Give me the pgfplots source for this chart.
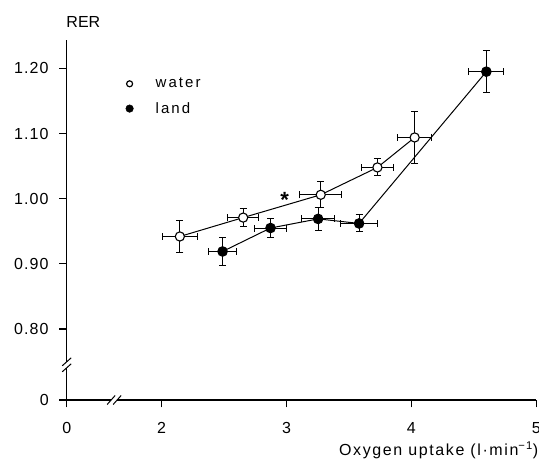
\documentclass[border=0pt]{standalone}
\usepackage{pgfplots}
\pgfplotsset{compat=1.18}
\usepackage{fontspec}
\setmainfont{Liberation Sans}[LetterSpace=14]
\newfontfamily\tickfamily{Liberation Sans}[LetterSpace=7]
\newfontfamily\plainfamily{Liberation Sans}
\newfontfamily\xlabfamily{Liberation Sans}[LetterSpace=10]
\newcommand{\mytickfont}{\tickfamily\fontsize{16}{19}\selectfont}
\newcommand{\myylabfont}{\plainfamily\fontsize{16}{19}\selectfont}
\newcommand{\myxlabfont}{\xlabfamily\fontsize{16}{19}\selectfont}

\begin{document}
\begin{tikzpicture}
\begin{axis}[
  scale only axis, width=469.6pt, height=360pt,
  xmin=1.24, xmax=5, ymin=0.691, ymax=1.2436,
  axis lines=left, axis line style={-, line width=1.4pt},
  tick align=outside, major tick length=7.5pt,
  tick style={draw=black, line width=1.2pt},
  xtick={1.24,2,3,4,5}, xticklabels={0,2,3,4,5},
  ytick={0.691,0.8,0.9,1.0,1.1,1.2},
  yticklabels={0,0.80,0.90,1.00,1.10,1.20},
  yticklabel style={font=\mytickfont, xshift=-7pt},
  xticklabel style={font=\mytickfont, yshift=-11pt},
  xlabel={Oxygen uptake (l·min\textsuperscript{−1})},
  xlabel style={font=\myxlabfont, at={(axis description cs:1.003,-0.14)}, anchor=east, xshift=4pt},
  ylabel={RER},
  ylabel style={font=\myylabfont, rotate=-90,
    at={(axis description cs:-0.008,1.05)}, anchor=west},
  clip=false,
  legend style={at={(axis description cs:0.125,0.9)}, anchor=north west,
    draw=none, fill=none, font=\fontsize{15}{18}\selectfont, row sep=9pt,
    legend cell align=left, inner sep=0pt},
  legend image code/.code={\draw[#1] plot coordinates {(0pt,0pt)};
    \path[draw=none] (-4pt,0pt) -- (24pt,0pt);},
]
\addlegendimage{black, only marks, mark=o, mark size=3pt, line width=1.2pt}
\addlegendentry{water}
\addlegendimage{black, only marks, mark=*, mark size=3.8pt}
\addlegendentry{land}

% water
\addplot[black, line width=1pt, mark=*,
  mark options={fill=white, line width=1.1pt, mark size=4.6pt},
  error bars/.cd, x dir=both, x explicit, y dir=both, y explicit,
  error bar style={line width=1pt, black},
  error mark options={rotate=90, mark size=3.5pt, line width=1pt, black}]
  coordinates {
  (2.146,0.942) +- (0.140,0.025)
  (2.653,0.971) +- (0.124,0.014)
  (3.274,1.006) +- (0.168,0.020)
  (3.728,1.048) +- (0.125,0.013)
  (4.026,1.094) +- (0.134,0.040)
};
% land
\addplot[black, line width=1pt, mark=*,
  mark options={fill=black, mark size=4.8pt},
  error bars/.cd, x dir=both, x explicit, y dir=both, y explicit,
  error bar style={line width=1pt, black},
  error mark options={rotate=90, mark size=3.5pt, line width=1pt, black}]
  coordinates {
  (2.488,0.919) +- (0.112,0.021)
  (2.872,0.955) +- (0.125,0.014)
  (3.253,0.969) +- (0.130,0.018)
  (3.581,0.962) +- (0.147,0.013)
  (4.600,1.195) +- (0.140,0.032)
};

\node[font=\fontsize{22}{22}\selectfont\bfseries, anchor=base] at (axis cs:2.986,0.986) {*};

% axis breaks
\fill[white] (axis cs:1.62,0.691) ++(-3pt,-2pt) rectangle ++(6pt,4pt);
\draw[line width=1pt] (axis cs:1.62,0.691) ++(-7pt,-4.5pt) -- ++(8pt,9pt);
\draw[line width=1pt] (axis cs:1.62,0.691) ++(-1pt,-4.5pt) -- ++(8pt,9pt);
\fill[white] (axis cs:1.24,0.745) ++(-2pt,-3pt) rectangle ++(4pt,6pt);
\draw[line width=1pt] (axis cs:1.24,0.745) ++(-4.5pt,-7pt) -- ++(9pt,8pt);
\draw[line width=1pt] (axis cs:1.24,0.745) ++(-4.5pt,-1pt) -- ++(9pt,8pt);

\coordinate (O) at (rel axis cs:0,0);
\end{axis}
\pgfresetboundingbox
\path (O) ++(-66.7pt,-66pt) rectangle ++(539pt,466pt);
\end{tikzpicture}
\end{document}
